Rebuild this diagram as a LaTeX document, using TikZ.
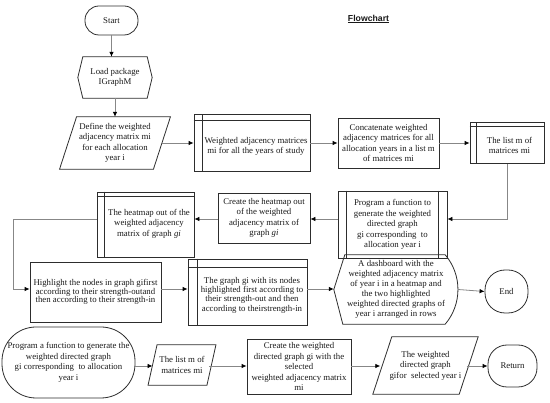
\documentclass[tikz,border=0pt]{standalone}
\usepackage{fontspec}
\setmainfont{Liberation Serif}
\newfontfamily\titlefont{Liberation Sans}
\usetikzlibrary{arrows.meta}
\definecolor{boxc}{RGB}{45,45,45}
\definecolor{linec}{RGB}{135,135,135}
\definecolor{txtc}{RGB}{25,25,25}
\newcommand\dgmfont{\fontsize{8.8pt}{10.5pt}\selectfont}
\newcommand\dgmtight{\fontsize{8.8pt}{8.6pt}\selectfont}
\newcommand\dgmmid{\fontsize{8.8pt}{9.3pt}\selectfont}
\tikzset{
  base/.style={inner sep=0pt, align=center, font=\dgmfont, text=txtc, rectangle},
  box/.style={base, draw=boxc, line width=0.8pt},
  ghost/.style={base},
  shapeline/.style={draw=boxc, line width=0.8pt, line join=miter},
  inner/.style={draw=boxc, line width=0.8pt},
  term/.style={box, rounded corners=#1},
  arr/.style={draw=linec, line width=0.8pt, -{Latex[length=5pt,width=4.5pt,color=black,fill=black]}},
}
\begin{document}
\begin{tikzpicture}[x=1pt,y=-1pt]
\useasboundingbox (0,0) rectangle (550,403);

% row helpers
\coordinate (row2) at (0,219);
\coordinate (row3) at (0,289);
\coordinate (row4) at (0,366);
\coordinate (lft) at (13,0);

% title
\node[base, font=\titlefont\bfseries\fontsize{8.7pt}{10pt}\selectfont] (title) at (368.5,19) {\underline{Flowchart}};

% column 1 / row 1
\node[term=14pt, minimum width=53pt, minimum height=29pt] (start) at (111.5,20.5) {Start};
\node[ghost, minimum width=74pt, minimum height=41pt] (load) at (115,77.5) {Load package\\IGraphM};
\draw[shapeline] ([xshift=5pt]load.north west) -- ([xshift=-5pt]load.north east) -- (load.east)
  -- ([xshift=-5pt]load.south east) -- ([xshift=5pt]load.south west) -- (load.west) -- cycle;

\node[ghost, minimum width=93.5pt, minimum height=52pt] (def) at (115,143)
  {Define the weighted\\adjacency matrix mi\\for each allocation\\year i};
\draw[shapeline] ([xshift=8.5pt]def.north west) -- ([xshift=8.5pt]def.north east)
  -- ([xshift=-8.5pt]def.south east) -- ([xshift=-8.5pt]def.south west) -- cycle;

\node[box, minimum width=116pt, minimum height=57pt] (wam) at (252,143) {};
\node[base] (wamtext) at ([shift={(4,3.5)}]wam.center)
  {Weighted adjacency matrices\\mi for all the years of study};
\draw[inner] ([yshift=-6pt]wam.north west) -- ([yshift=-6pt]wam.north east);
\draw[inner] ([xshift=9pt]wam.north west) -- ([xshift=9pt]wam.south west);

\node[box, minimum width=101pt, minimum height=50pt] (concat) at (388.5,143)
  {Concatenate weighted\\adjacency matrices for all\\allocation years in a list m\\of matrices mi};

\node[box, minimum width=74pt, minimum height=41pt] (listm) at (507,143) {};
\node[base] (listmtext) at ([shift={(2.5,2.5)}]listm.center) {The list m of\\matrices mi};
\draw[inner] ([yshift=-4pt]listm.north west) -- ([yshift=-4pt]listm.north east);
\draw[inner] ([xshift=7pt]listm.north west) -- ([xshift=7pt]listm.south west);

% row 2
\node[box, minimum width=109pt, minimum height=67pt] (program) at (392.5,224.5)
  {Program a function to\\generate the weighted\\directed graph\\gi corresponding\ \ to\\allocation year i};
\draw[inner] ([xshift=9pt]program.north west) -- ([xshift=9pt]program.south west);
\draw[inner] ([xshift=-9pt]program.north east) -- ([xshift=-9pt]program.south east);

\node[box, minimum width=92pt, minimum height=50pt] (create) at (264,218)
  {Create the heatmap out\\of the weighted\\adjacency matrix of\\graph \textit{gi}};

\node[box, minimum width=97pt, minimum height=65pt] (heatmap) at (145.5,224.5) {};
\node[base] (heatmaptext) at ([shift={(3.5,-1)}]heatmap.center)
  {The heatmap out of the\\weighted adjacency\\matrix of graph \textit{gi}};
\draw[inner] ([yshift=-5pt]heatmap.north west) -- ([yshift=-5pt]heatmap.north east);
\draw[inner] ([xshift=8pt]heatmap.north west) -- ([xshift=8pt]heatmap.south west);

% row 3
\node[box, minimum width=131pt, minimum height=60pt, font=\dgmtight] (highlight) at (95.5,292)
  {Highlight the nodes in graph gifirst\\according to their strength-outand\\then according to their strength-in};

\node[box, minimum width=119pt, minimum height=66pt] (graphgi) at (247.5,292) {};
\node[base, font=\dgmmid] (graphgitext) at ([shift={(4.5,3)}]graphgi.center)
  {The graph gi with its nodes\\highlighted first according to\\their strength-out and then\\according to theirstrength-in};
\draw[inner] ([yshift=-9pt]graphgi.north west) -- ([yshift=-9pt]graphgi.north east);
\draw[inner] ([xshift=10pt]graphgi.north west) -- ([xshift=10pt]graphgi.south west);

\node[ghost, minimum width=124pt, minimum height=69pt, font=\fontsize{8.8pt}{10pt}\selectfont] (dash) at (396,289.5)
  {A dashboard with the\\weighted adjacency matrix\\of year i in a heatmap and\\the two highlighted\\weighted directed graphs of\\year i arranged in rows};
\draw[shapeline] (dash.west) -- ([xshift=11pt]dash.north west) -- ([xshift=-13pt]dash.north east)
  .. controls ([xshift=4pt,yshift=-20pt]dash.north east) and ([xshift=4pt,yshift=20pt]dash.south east) .. ([xshift=-13pt]dash.south east)
  -- ([xshift=9pt]dash.south west) -- cycle;

\node[term=20pt, minimum width=43pt, minimum height=43pt] (end) at (506.5,291.5) {End};

% row 4
\node[term=34pt, minimum width=133pt, minimum height=71pt] (bprog) at (68.5,362.5)
  {Program a function to generate the\\weighted directed graph\\gi corresponding\ \ to allocation\\year i};

\node[ghost, minimum width=58.5pt, minimum height=40pt] (blist) at (182,365)
  {The list m of\\matrices mi};
\draw[shapeline] ([xshift=4.5pt]blist.north west) -- ([xshift=4.5pt]blist.north east)
  -- ([xshift=-4.5pt]blist.south east) -- ([xshift=-4.5pt]blist.south west) -- cycle;

\node[box, minimum width=104pt, minimum height=55pt] (bcreate) at (299,366.5)
  {Create the weighted\\directed graph gi with the\\selected\\weighted adjacency matrix\\mi};

\node[ghost, minimum width=86pt, minimum height=57pt] (wdg) at (425.5,365.5)
  {The weighted\\directed graph\\gifor\ \ selected year i};
\draw[shapeline] ([xshift=9.5pt]wdg.north west) -- ([xshift=9.5pt]wdg.north east)
  -- ([xshift=-9.5pt]wdg.south east) -- ([xshift=-9.5pt]wdg.south west) -- cycle;

\node[term=19pt, minimum width=49pt, minimum height=42pt] (ret) at (512.5,366) {Return};

% connectors
\draw[arr] (start.south) -- (start.south |- load.north);
\draw[arr] (load.south) -- (def.north);
\draw[arr] (def.east) -- (wam.west);
\draw[arr] (wam.east) -- (concat.west);
\draw[arr] (concat.east) -- (listm.west);
\draw[arr] (listm.south) -- (listm.south |- row2) -- (program.east |- row2);
\draw[arr] (program.west |- row2) -- (create.east |- row2);
\draw[arr] (create.west |- row2) -- (heatmap.east |- row2);
\draw[arr] (heatmap.west |- row2) -- (lft |- row2) -- (lft |- row3) -- (highlight.west |- row3);
\draw[arr] (highlight.east |- row3) -- (graphgi.west |- row3);
\draw[arr] (graphgi.east |- row3) -- (dash.west |- row3);
\draw[arr] (dash.east) -- (end.west);
\draw[arr] (bprog.east |- row4) -- (blist.west |- row4);
\draw[arr] ([xshift=-2pt]blist.east |- row4) -- (bcreate.west |- row4);
\draw[arr] (bcreate.east |- row4) -- ([xshift=-2pt]wdg.west |- row4);
\draw[arr] ([xshift=-2pt]wdg.east |- row4) -- (ret.west |- row4);
\end{tikzpicture}
\end{document}
